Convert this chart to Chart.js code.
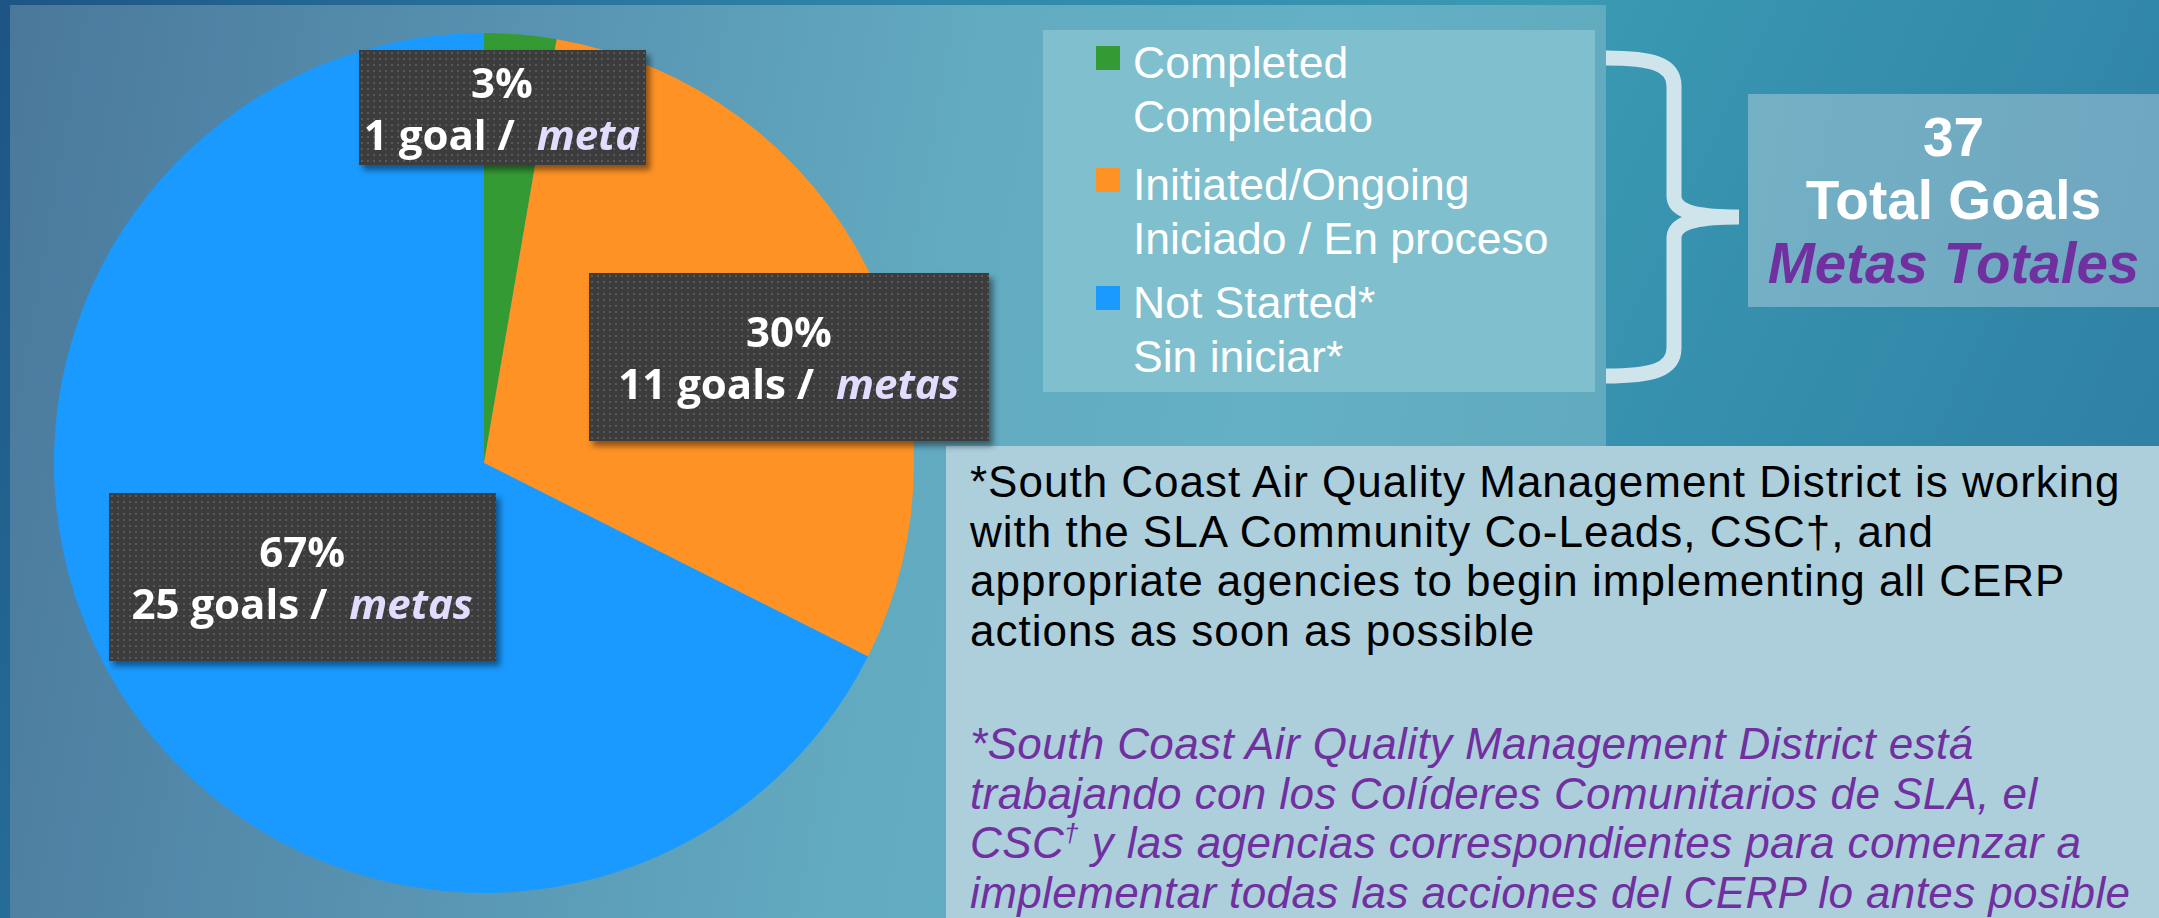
<!DOCTYPE html>
<html>
<head>
<meta charset="utf-8">
<script src="https://cdn.jsdelivr.net/npm/chart.js@4"></script>
<style>
  html, body { margin: 0; padding: 0; }
  body {
    width: 2159px; height: 918px; overflow: hidden; position: relative;
    background: linear-gradient(115deg, #1d5585 0%, #2f86aa 35%, #3a9ab3 60%, #2c7aa1 100%);
    font-family: "Liberation Sans", Arial, sans-serif;
  }
  #panel {
    position: absolute; left: 10px; top: 5px; width: 1596px; height: 913px;
    background: linear-gradient(100deg, #4a789b 0%, #5791b0 28%, #62aac0 55%, #64b0c4 75%, #60a8bd 100%);
  }
  #chartWrap { position: absolute; left: 0; top: 0; width: 1010px; height: 918px; }
  .tag {
    position: absolute; display: flex; flex-direction: column; justify-content: center; align-items: center;
    background-color: #3c3c3c;
    background-image: radial-gradient(circle, #585858 0.9px, transparent 1.3px);
    background-size: 6px 6px;
    box-shadow: 4px 5px 6px rgba(0,0,0,0.45);
    color: #fff; font-family: "Open Sans", sans-serif; font-weight: 700; font-size: 42px; line-height: 52px;
    white-space: nowrap;
  }
  .tag i { color: #e2dcff; }
  #legend {
    position: absolute; left: 1043px; top: 30px; width: 552px; height: 362px; background: #80bfcd;
  }
  .lg { position: absolute; left: 90px; color: #fff; font-size: 44.5px; line-height: 54px; white-space: nowrap; }
  .lg span.sw { position: absolute; left: -37px; top: 10px; width: 24px; height: 24px; }
  #total {
    position: absolute; left: 1748px; top: 94px; width: 411px; height: 213px;
    background: linear-gradient(100deg, #74b1c5, #6ea6bf);
    display: flex; flex-direction: column; justify-content: center; align-items: center;
    color: #fff; font-weight: 700; font-size: 55px; line-height: 63px; text-align: center;
  }
  #total i { color: #7030a0; font-size: 56.5px; }
  #note {
    position: absolute; left: 946px; top: 446px; width: 1213px; height: 472px; background: #adcedb;
    box-sizing: border-box; padding: 11px 0 0 24px;
    font-size: 44px; letter-spacing: 1px; line-height: 49.5px; white-space: nowrap; color: #000;
  }
  #note .es { font-style: italic; color: #7030a0; letter-spacing: 0.4px; line-height: 49.5px; }
  #note sup { font-size: 26px; line-height: 0; vertical-align: 16px; }
</style>
</head>
<body>
<div id="panel"></div>
<div id="chartWrap"><canvas id="pie" width="1010" height="918"></canvas></div>
<div id="legend"></div>
<svg width="2159" height="918" style="position:absolute;left:0;top:0">
  <path d="M1606,58 C1652,58 1674,64 1674,86 L1674,196 C1674,210 1692,217 1739,217 C1692,217 1674,224 1674,238 L1674,348 C1674,370 1652,376 1606,376"
        fill="none" stroke="#cfe5eb" stroke-width="15"/>
</svg>
<div id="total"><div>37</div><div>Total Goals</div><div><i>Metas Totales</i></div></div>
<div id="note">
  <div>*South Coast Air Quality Management District is working<br>with the SLA Community Co-Leads, CSC†, and<br>appropriate agencies to begin implementing all CERP<br>actions as soon as possible</div>
  <div style="height:64px"></div>
  <div class="es">*South Coast Air Quality Management District está<br>trabajando con los Colíderes Comunitarios de SLA, el<br>CSC<sup>†</sup> y las agencias correspondientes para comenzar a<br>implementar todas las acciones del CERP lo antes posible</div>
</div>
<script>
// values
const categories = ['Completed', 'Initiated/Ongoing', 'Not Started*'];
const categoriesEs = ['Completado', 'Iniciado / En proceso', 'Sin iniciar*'];
const goals = [1, 11, 25];
const percents = [3, 30, 67];
const colors = ['#349a34', '#fe9225', '#1a9aff'];

// where each dark tag sits, relative to pie centre (in radii) and its size
const tagSpots = [
  { dx: 0.042, dy: -0.826, w: 287, h: 115 },
  { dx: 0.709, dy: -0.247, w: 400, h: 168 },
  { dx: -0.423, dy: 0.265, w: 387, h: 168 }
];

// legend built from the same arrays
const legend = document.getElementById('legend');
const legendTops = [6, 128, 246];
categories.forEach((c, i) => {
  const d = document.createElement('div');
  d.className = 'lg';
  d.style.top = legendTops[i] + 'px';
  d.innerHTML = '<span class="sw" style="background:' + colors[i] + '"></span>' + c + '<br>' + categoriesEs[i];
  legend.appendChild(d);
});

const tags = goals.map((g, i) => {
  const d = document.createElement('div');
  d.className = 'tag';
  const word = g === 1 ? 'goal' : 'goals';
  const meta = g === 1 ? 'meta' : 'metas';
  d.innerHTML = '<div>' + percents[i] + '%</div><div>' + g + ' ' + word + ' /&nbsp; <i>' + meta + '</i></div>';
  document.body.appendChild(d);
  return d;
});

const tagPlugin = {
  id: 'tags',
  afterDraw(chart) {
    const arc = chart.getDatasetMeta(0).data[0];
    const cx = arc.x, cy = arc.y, r = arc.outerRadius;
    tags.forEach((d, i) => {
      const s = tagSpots[i];
      d.style.width = s.w + 'px';
      d.style.height = s.h + 'px';
      d.style.left = (cx + s.dx * r - s.w / 2) + 'px';
      d.style.top = (cy + s.dy * r - s.h / 2) + 'px';
    });
  }
};

new Chart(document.getElementById('pie'), {
  type: 'pie',
  data: {
    labels: categories,
    datasets: [{
      data: goals,
      backgroundColor: colors,
      borderWidth: 0,
      hoverOffset: 0,
      offset: 0
    }]
  },
  options: {
    responsive: false,
    animation: false,
    events: [],
    layout: { padding: { left: 54, right: 96, top: 33, bottom: 25 } },
    plugins: {
      legend: { display: false },
      tooltip: { enabled: false },
      title: { display: false }
    }
  },
  plugins: [tagPlugin]
});
</script>
</body>
</html>
